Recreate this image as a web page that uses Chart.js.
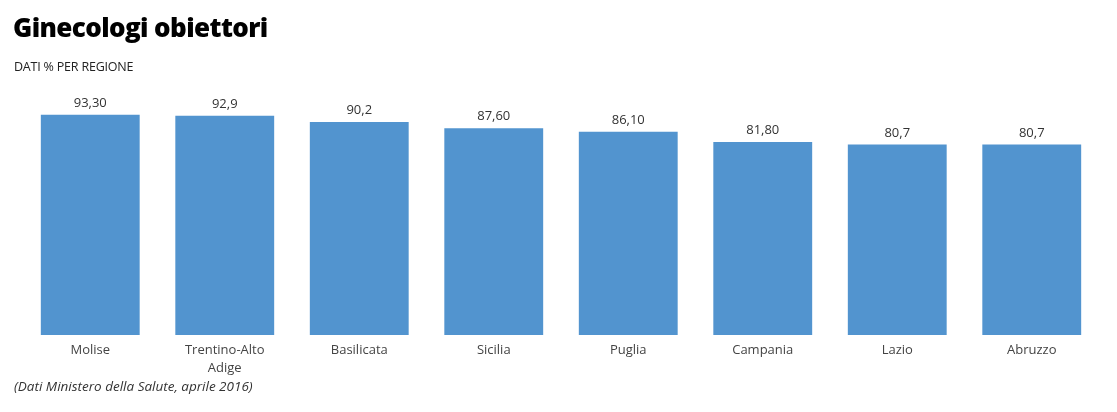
<!DOCTYPE html>
<html>
<head>
<meta charset="utf-8">
<script src="https://cdn.jsdelivr.net/npm/chart.js@4.4.1/dist/chart.umd.min.js"></script>
<style>
  html, body { margin: 0; padding: 0; background: #fff; }
  body { width: 1117px; height: 412px; position: relative; overflow: hidden; font-family: "Open Sans", "Noto Sans", sans-serif; }
  #title { position: absolute; left: 13px; top: 9px; font-size: 26px; font-weight: 800; color: #000; letter-spacing: -0.6px; }
  #sub { position: absolute; left: 14px; top: 58px; font-size: 12.5px; color: #222; letter-spacing: -0.2px; }
  #note { position: absolute; left: 14px; top: 377px; font-size: 13.5px; font-style: italic; color: #333; }
  #wrap { position: absolute; left: 0; top: 0; width: 1117px; height: 412px; }
</style>
</head>
<body>
<div id="wrap"><canvas id="barChart"></canvas></div>
<div id="title">Ginecologi obiettori</div>
<div id="sub">DATI % PER REGIONE</div>
<div id="note">(Dati Ministero della Salute, aprile 2016)</div>
<script>
const regioni = ['Molise', ['Trentino-Alto', 'Adige'], 'Basilicata', 'Sicilia', 'Puglia', 'Campania', 'Lazio', 'Abruzzo'];
const valori = [93.3, 92.9, 90.2, 87.6, 86.1, 81.8, 80.7, 80.7];
const etichette = ['93,30', '92,9', '90,2', '87,60', '86,10', '81,80', '80,7', '80,7'];

// scrive i valori sopra le barre
const valueLabels = {
    id: 'valueLabels',
    afterDatasetsDraw(chart) {
        const ctx = chart.ctx;
        const meta = chart.getDatasetMeta(0);
        ctx.save();
        ctx.font = '13px "Open Sans", "Noto Sans", sans-serif';
        ctx.fillStyle = '#333';
        ctx.textAlign = 'center';
        ctx.textBaseline = 'bottom';
        meta.data.forEach((bar, i) => {
            ctx.fillText(etichette[i], bar.x, bar.y - 5);
        });
        ctx.restore();
    }
};

document.addEventListener('DOMContentLoaded', () => {
    const ctxBar = document.getElementById('barChart');
    new Chart(ctxBar, {
        type: 'bar',
        data: {
            labels: regioni,
            datasets: [{
                data: valori,
                backgroundColor: '#5294cf',
                borderWidth: 0,
                categoryPercentage: 1,
                barPercentage: 0.735
            }]
        },
        options: {
            responsive: true,
            maintainAspectRatio: false,
            animation: false,
            layout: { padding: { top: 99, left: 23, right: 18, bottom: 28 } },
            plugins: { legend: { display: false }, tooltip: { enabled: false } },
            scales: {
                x: {
                    grid: { display: false, drawTicks: false },
                    border: { display: false },
                    ticks: { color: '#444', font: { size: 13, lineHeight: 1.35, family: '"Open Sans", "Noto Sans", sans-serif' }, padding: 7, maxRotation: 0, autoSkip: false }
                },
                y: { display: false, min: 0, max: 100 }
            }
        },
        plugins: [valueLabels]
    });
});
</script>
</body>
</html>
